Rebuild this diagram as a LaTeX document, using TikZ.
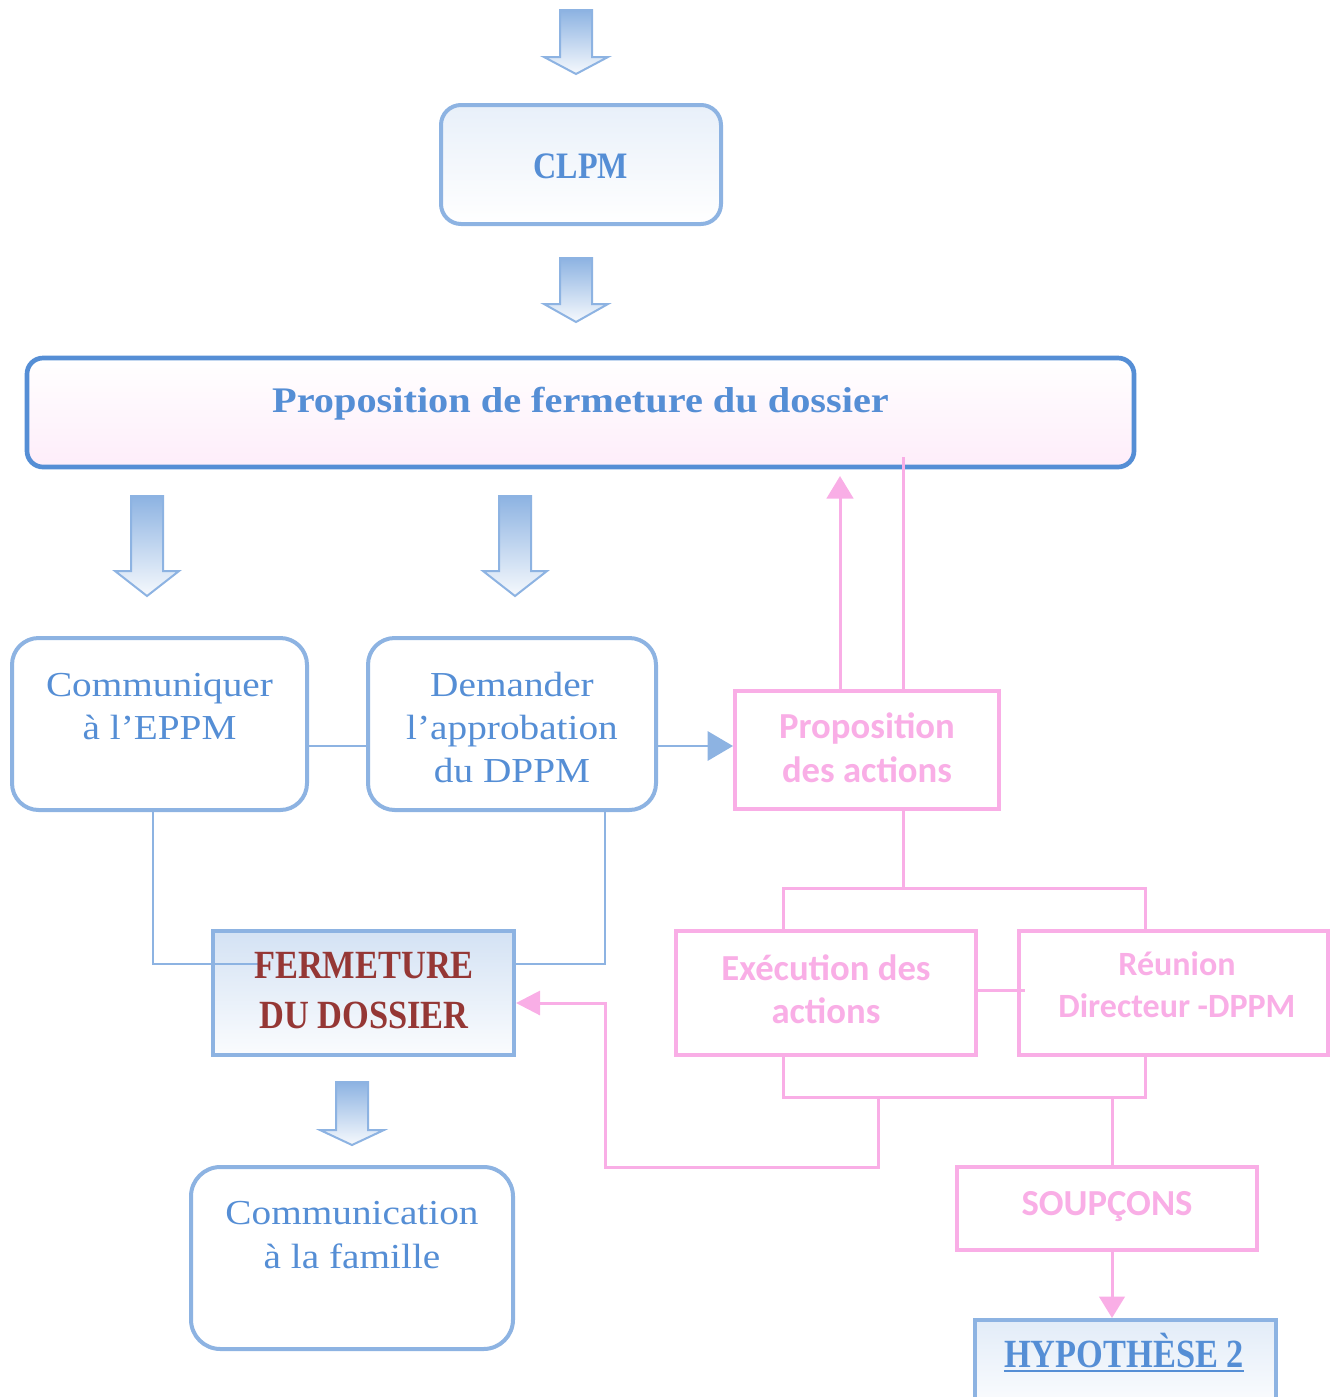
\documentclass[tikz,border=0pt]{standalone}
\usepackage{fontspec}
\setmainfont{Liberation Serif}[FakeStretch=1.12]
\newfontfamily\capsf{Liberation Serif}[FakeStretch=0.86]
\newfontfamily\calf{Carlito}
\usetikzlibrary{arrows.meta}
\definecolor{bl}{HTML}{8DB3E2}
\definecolor{bt}{HTML}{558ED5}
\definecolor{pk}{HTML}{F9AEE6}
\definecolor{dr}{HTML}{953735}
\newcommand\blockarrow[4]{%
  \path[barrow] ({#1-16},#2) -- ({#1+16},#2) -- ({#1+16},#3) -- ({#1+32},#3)
    -- (#1,#4) -- ({#1-32},#3) -- ({#1-16},#3) -- cycle;}
\begin{document}
\begin{tikzpicture}[x=0.75pt,y=-0.75pt,
  barrow/.style={draw=bl,line width=1.5pt,line join=miter,top color=bl,bottom color=white!92!bl},
  bbox/.style={draw=bl,line width=3pt,rounded corners=15pt,inner sep=0pt},
  pbox/.style={draw=pk,line width=3pt,inner sep=0pt},
  bline/.style={draw=bl,line width=1.5pt},
  pline/.style={draw=pk,line width=2.25pt},
  btxt/.style={text=bt,align=center,anchor=base,inner sep=0pt,font=\fontsize{26.3}{32.25}\selectfont},
  ptxt/.style={text=pk,align=center,anchor=base,inner sep=0pt,font=\calf\bfseries\fontsize{27.5}{33}\selectfont},
  captxt/.style={align=center,anchor=base,inner sep=0pt,font=\capsf\bfseries\fontsize{30}{37.5}\selectfont},
]
\useasboundingbox (0,0) rectangle (1333,1397);
\clip (0,0) rectangle (1333,1397);

% block arrows
\blockarrow{576}{10}{57}{74}
\blockarrow{576}{258}{304}{322}
\blockarrow{147}{496}{571}{596}
\blockarrow{515}{496}{571}{596}
\blockarrow{352}{1082}{1130}{1145}

% boxes
\node[bbox,top color=bl!20,bottom color=white,minimum width=280*0.75pt,minimum height=119*0.75pt] (clpm) at (581,164.5) {};
\node[bbox,draw=bt,line width=3.5pt,rounded corners=12pt,top color=white,bottom color=pk!22,minimum width=1107*0.75pt,minimum height=109*0.75pt] (prop) at (580.5,412.5) {};
\node[bbox,rounded corners=20pt,fill=white,minimum width=295*0.75pt,minimum height=172*0.75pt] (comm) at (159.5,724) {};
\node[bbox,rounded corners=20pt,fill=white,minimum width=288*0.75pt,minimum height=172*0.75pt] (dem) at (512,724) {};
\node[pbox,fill=white,minimum width=264*0.75pt,minimum height=118*0.75pt] (pa) at (867,750) {};
\node[bbox,rounded corners=0pt,top color=bl!38,bottom color=white!96!bl,minimum width=301*0.75pt,minimum height=124*0.75pt] (ferm) at (363.5,993) {};
\node[pbox,fill=white,minimum width=300*0.75pt,minimum height=124*0.75pt] (exec) at (826,993) {};
\node[pbox,fill=white,minimum width=309*0.75pt,minimum height=124*0.75pt] (reun) at (1173.5,993) {};
\node[pbox,fill=white,minimum width=300*0.75pt,minimum height=83*0.75pt] (soup) at (1107,1208.5) {};
\node[bbox,rounded corners=0pt,top color=bl!25,bottom color=white,minimum width=301*0.75pt,minimum height=100*0.75pt] (hyp) at (1125.5,1370) {};
\node[bbox,rounded corners=22pt,fill=white,minimum width=322*0.75pt,minimum height=182*0.75pt] (commf) at (352,1258) {};

% coordinates
\coordinate (j1) at (903,888);
\coordinate (jl) at (783,888);
\coordinate (jr) at (1145,888);
\coordinate (kl) at (783,1097);
\coordinate (kr) at (1145,1097);
\coordinate (b1) at (878,1097);
\coordinate (c1) at (605,1167);
\coordinate (b2) at (1112,1097);
\coordinate (fin) at (262,964);

% blue connectors
\draw[bline] (comm.east |- 0,746) -- (dem.west |- 0,746);
\draw[bline,-{Triangle[length=19pt,width=22pt]}] (dem.east |- 0,746) -- (pa.west |- 0,746);
\draw[bline] (comm.south -| 153,0) |- (fin);
\draw[bline] (dem.south -| 605,0) |- (ferm.east |- 0,964);

% pink connectors
\draw[pline,-{Triangle[length=17pt,width=20pt]}] (pa.north -| 840,0) -- ([yshift=-5pt]prop.south -| 840,0);
\draw[pline] (pa.north -| 903,0) -- ([yshift=9pt]prop.south -| 903,0);
\draw[pline] (pa.south -| j1) -- (j1);
\draw[pline] (exec.north -| jl) |- (jr) -- (reun.north -| jr);
\draw[pline] (exec.east |- 0,990) -- ([xshift=6pt]reun.west |- 0,990);
\draw[pline] (exec.south -| kl) |- (kr) -- (reun.south -| kr);
\draw[pline,-{Triangle[length=18pt,width=18pt]}] (b1) |- (c1) |- (ferm.east |- 0,1003);
\draw[pline] (b2) -- (soup.north -| b2);
\draw[pline,-{Triangle[length=16pt,width=19pt]}] (soup.south -| b2) -- (hyp.north -| b2);

% texts (base anchor = baseline of last line)
\node[captxt,text=bt,font=\capsf\bfseries\fontsize{28}{34}\selectfont] (clpm-t) at (581,178) {CLPM};
\node[btxt,font=\bfseries\fontsize{27}{33}\selectfont] (prop-t) at (580.5,412) {Proposition de fermeture du dossier};
\node[btxt] (comm-t) at (159.5,739) {Communiquer\\à l’EPPM};
\node[btxt] (dem-t) at (512,782) {Demander\\l’approbation\\du DPPM};
\node[ptxt] (pa-t) at (867,782) {Proposition\\des actions};
\node[captxt,text=dr] (ferm-t) at (364,1028) {FERMETURE\\DU DOSSIER};
\node[ptxt,font=\calf\bfseries\fontsize{27.5}{32.25}\selectfont] (exec-t) at (826,1023) {Exécution des\\actions};
\node[ptxt,font=\calf\bfseries\fontsize{25.5}{31.5}\selectfont] (reun-t) at (1177,1017) {Réunion\\Directeur -DPPM};
\node[ptxt] (soup-t) at (1107,1215) {SOUPÇONS};
\node[captxt,text=bt] (hyp-t) at (1124,1367) {HYPOTHÈSE 2};
\draw[bt,line width=2pt] ([yshift=-3pt]hyp-t.base west) -- ([yshift=-3pt]hyp-t.base east);
\node[btxt,font=\fontsize{26.3}{33}\selectfont] (commf-t) at (352,1268) {Communication\\à la famille};
\end{tikzpicture}
\end{document}
